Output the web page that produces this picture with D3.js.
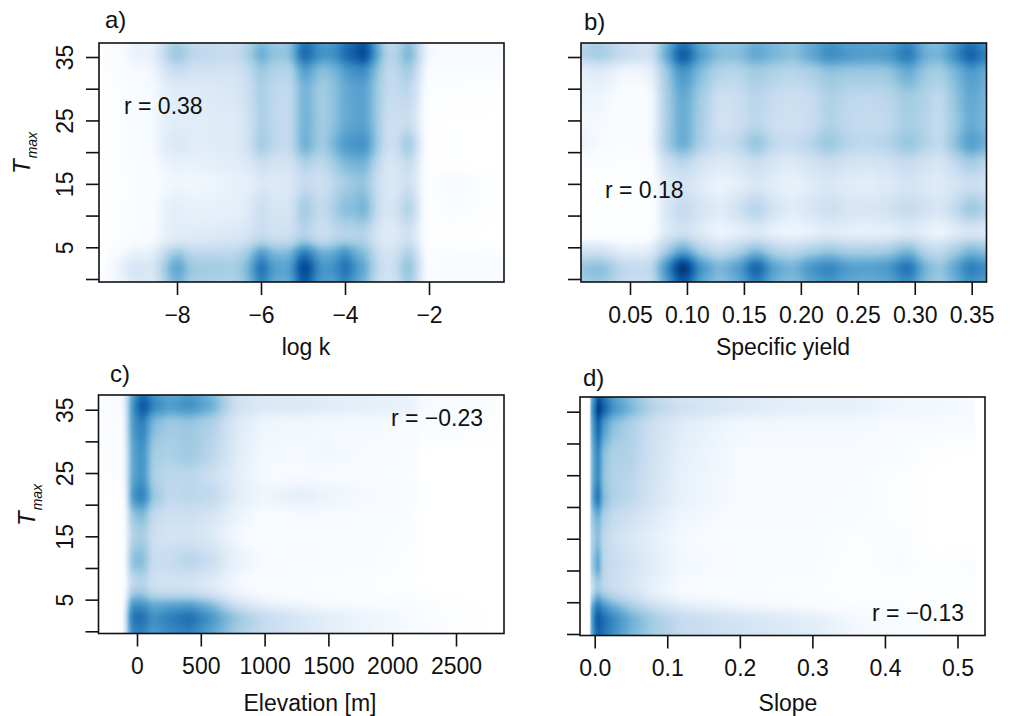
<!DOCTYPE html>
<html><head><meta charset="utf-8">
<script src="https://cdn.jsdelivr.net/npm/d3@7"></script>
<style>
html,body{margin:0;padding:0;background:#fff}
svg{display:block}
text{font-family:"Liberation Sans",Arial,sans-serif;fill:#111}
</style></head><body>
<svg id="c" width="1013" height="716"></svg>
<script>
// colour levels: 0 = white ... 9 = darkest
const paletteLevels=[0,1,2,3,4,5,6,7,8,9];
const paletteColours=["#ffffff","#F7FBFF","#DEEBF7","#C6DBEF","#9ECAE1","#6BAED6","#4292C6","#2171B5","#08519C","#08306B"];

const yTicks=[0,5,10,15,20,25,30,35];
const yTickLabels=[5,15,25,35];

// a) log k
const xKnotsA=[-9.85,-9.4,-9.0,-8.55,-8.35,-8,-7.65,-6.6,-6.25,-6,-5.75,-5.3,-5,-4.55,-4.2,-4,-3.75,-3.55,-3.25,-3.0,-2.75,-2.5,-2.25,-2.05,-1.5,-0.2];
const yKnotsA=[37.2,35.3,33,30,25,21,18,15.5,11,7,5.5,4.5,1.7,-0.5];
const levelsA=[
[.3,.7,1.5,1.4,2.8,3.9,3,2.8,3.6,4.8,4,4,7.2,5.6,5.8,7,7.2,8.4,5.2,3,3.2,4.8,3.2,1,.9,.9],
[.3,.8,1.7,1.6,3.1,4.4,3.3,3,3.9,5.5,4.3,4.3,7.8,6,6.2,7.5,7.7,9,5.6,3.3,3.5,5.3,3.4,1.1,1,1],
[.3,.7,1,1.2,2.2,3,2.6,2.5,3.1,4.3,3.5,3.3,5.8,4.3,4.7,5.8,6,6.4,4.4,3,3.2,4.2,2.8,.8,.8,.8],
[.2,.5,1,1,1.7,2,2,2.2,2.9,3.9,3.2,3,5,3.8,4.4,5.2,5.4,5.6,4.1,3,3,3.5,2.3,.5,.4,.3],
[.2,.5,1,1,1.7,1.9,1.9,2,2.7,3.9,3.2,2.9,5.1,3.8,4.4,5.2,5.3,5.6,4.1,2.7,2.6,3,2,.3,.1,.1],
[.2,.5,1,1,1.9,2.2,1.9,2,2.7,4.2,3.3,2.9,5.2,3.8,4.9,5.9,5.8,6.3,4.2,2.6,2.8,4.5,2.6,.3,.1,0],
[.2,.4,.8,.8,1.4,1.6,1.6,1.9,2.1,2.9,2.4,2.4,3.6,3,4,4.6,4.7,5,3.3,2.2,2.3,3.2,2,.3,.1,0],
[.1,.3,.7,.7,1.1,1.3,1.2,1.6,1.7,2.2,2,2.1,3,2.6,3.3,3.8,4.1,4.3,2.9,2.1,2.1,2.9,1.9,.2,1.1,.2],
[.1,.3,.8,.8,1.6,1.9,1.6,1.7,2,3,2.3,2.3,4.1,2.9,3.9,4.6,4.3,5.3,3,2.2,2.5,4,2.3,.2,.8,.1],
[.1,.4,.8,.9,1.6,1.9,1.9,2.1,2.4,3,2.6,2.6,3.5,2.6,3.1,3.3,3.3,3.5,2.4,1.8,2.1,2.8,1.8,.2,.1,.1],
[.2,.5,1,1.1,1.8,2.3,2.3,2.6,3,4,3.2,3.2,4.6,3.2,3.8,4.2,3.8,3.9,2.6,2,2.2,3.1,2,.2,.2,.1],
[.3,1,1.6,1.6,2.9,4.2,3.2,3.2,4,6,4.6,4.5,7,4.9,5.2,6.5,4.8,4.6,3,2.3,2.6,4,2.6,.4,.8,.5],
[.4,1.5,2.5,2.2,3.8,5.7,4,3.8,5,7.8,5.6,5.4,9,5.8,6.1,7.6,5.9,5.4,3.3,2.5,3,4.8,3,.5,1,1],
[.4,1.3,2.2,2,3.4,5,3.7,3.5,4.6,7,5.2,5,8.2,5.5,5.6,6.8,5.4,4.9,3,2.3,2.8,4.3,2.8,.4,1,.9]];

// b) Specific yield
const xKnotsB=[0.007,0.022,0.047,0.068,0.08,0.0966,0.113,0.129,0.145,0.161,0.177,0.193,0.209,0.225,0.242,0.258,0.275,0.295,0.31,0.322,0.336,0.349,0.363];
const yKnotsB=[37.2,35.3,32.7,28.2,24.5,21.4,18,15.1,10.9,7.2,5,1.7,-0.5];
const levelsB=[
[3.2,3.7,2.8,2.3,4.5,7,5,4.2,4.2,5,4.6,4.2,5,5.9,5.4,5.4,5.3,6.3,4.6,4.4,5.8,7,5.8],
[3.5,4,3,2.5,5,8.3,5.6,4.5,4.5,5.4,4.8,4.4,5.3,6.4,5.9,5.7,5.8,7.1,5,4.8,6.3,7.9,6.6],
[1.6,2,1.2,1.4,3.8,6,4.4,3.4,3.3,3.9,3.5,3.3,3.6,4.2,4,4,4,5.1,4,3.7,4.6,5.8,5],
[1.5,1.3,.7,.8,3.6,5.3,3.8,2.6,2.8,3.4,2.9,2.7,2.9,3.6,3.2,3.1,3.2,3.9,3.5,3,4.2,5.3,4.7],
[1.2,1.1,.7,.8,3.6,5.2,3.7,2.5,2.7,3.3,2.7,2.6,2.8,3.6,3.1,3,3.1,3.8,3.4,2.9,4,5.2,4.6],
[1.6,1.1,.7,.9,3.7,5.3,3.6,2.8,3.2,4.4,3.1,2.9,3.4,4.2,3.4,3.2,3.4,4.3,3.5,3,4.4,5.8,5],
[.6,.6,.4,.6,2.5,3.2,2.4,2,2.2,2.8,2.2,2,2.4,2.8,2.4,2.3,2.5,2.9,2.5,2.2,3,3.8,3.2],
[.3,.3,.3,.4,1.9,2.5,1.9,1.4,1.7,2.2,1.8,1.5,1.9,2.2,1.9,1.7,2,2.4,2.1,1.9,2.3,2.8,2.5],
[.3,.3,.2,.3,2.2,3.1,2.4,1.9,2.6,3.6,2.4,1.9,2.3,2.8,2.4,2.3,2.5,3,2.6,2.2,3.1,4.2,3.5],
[.2,.2,.2,.4,1.9,2.6,1.9,1.3,1.6,1.9,1.5,1.2,1.5,1.8,1.6,1.5,1.6,2,1.6,1.2,1.7,2.2,1.9],
[2.3,2.3,1.5,1.6,3.4,4.9,3.3,2.6,3.2,4.2,3.2,2.9,3.4,3.8,3.4,3.4,3.5,4.4,3.1,2.8,3.6,4.5,4],
[4.2,4.6,3.2,3,5.8,9.6,5.9,4.7,5.6,7.9,5.4,4.8,6,6.6,5.7,5.6,5.8,7.3,4.8,4.1,5.4,6.9,6.2],
[3.8,4.1,2.9,2.7,5.1,8,5.2,4.2,5,6.7,4.9,4.4,5.3,5.9,5.2,5,5.2,6.3,4.4,3.8,4.9,6.1,5.5]];

// c) Elevation [m]
const xKnotsC=[-302,-240,-100,-90,-50,50,120,250,415,600,700,800,1000,1300,1500,1800,2170,2220,2500,2820];
const yKnotsC=[37.4,35.6,32.9,27.9,24.5,21.4,18,15.3,11.1,7.4,5.5,4.5,2.1,-0.35];
const levelsC=[
[0,.7,1,2,5.2,7.4,6,5.2,5.7,4.6,3.3,2.4,2,1.9,1.7,1.6,1.4,1,1,.5],
[0,.8,1,2.2,5.6,8.3,6.6,5.7,6.2,5,3.6,2.6,2.2,2.2,2,1.8,1.6,1.1,1,.6],
[0,.6,.8,2,5.6,6.8,4.6,3.9,4.1,3.5,2.7,2,1.3,1.2,1.1,1.1,1,.8,.8,.4],
[0,.5,.7,1.7,5.2,6.2,3.8,3.6,4,3.2,2.5,1.9,1.1,1.1,1.2,1,.9,.1,0,0],
[0,.5,.7,1.7,5.2,6.1,3.6,3.2,3.3,2.7,2.2,1.7,1,1,1,.9,.8,.1,0,0],
[0,0,.3,1.3,5.8,6.8,4.2,3.1,3.3,3.1,2.4,1.8,1.3,1.8,1.4,1.1,.9,.1,0,0],
[0,0,.2,1.2,4,4.6,3,2.6,2.7,2.3,1.8,1.4,.9,1,1,.9,.7,.1,0,0],
[0,0,.2,1.1,3.4,3.8,2.7,2.4,2.4,2,1.5,1.1,.7,.8,.8,.8,.6,.1,0,0],
[0,0,.2,1.2,4.4,4.6,2.8,2.9,3.4,2.7,2,1.5,1,1,.9,.8,.4,.05,0,0],
[0,0,.2,1.1,3,3.4,2.6,2.5,2.4,1.9,1.5,1.1,.8,.7,.6,.5,.2,0,0,0],
[0,0,.2,1.5,4.3,4.3,3.3,3.2,3.2,2.6,1.9,1.4,1,.8,.7,.6,.5,.3,.1,0],
[0,0,.3,2.2,5.9,5.9,5,5.2,5.4,4.3,3.2,2.4,1.6,1.2,1,.9,.8,.7,.3,0],
[0,0,.5,3,7,7.1,6,6.6,7.2,5.8,4.8,4,3,2.2,1.8,1.4,1,.8,.4,0],
[0,0,.4,2.7,6.3,6.5,5.6,6.2,6.5,5.2,4.4,3.7,2.9,2.2,1.8,1.4,1,.8,.4,0]];

// d) Slope
const xKnotsD=[-.0203,-.0066,-.0062,.002,.005,.012,.025,.05,.08,.12,.2,.3,.36,.42,.47,.524,.526,.5378];
const yKnotsD=[37,35.6,33,27.8,24.5,21.5,18,15.2,10.9,7.2,5.5,4.5,2.3,-0.23];
const levelsD=[
[0,0,4.5,6.8,8,7,5.6,4.4,3.2,2.4,2,1.6,1.6,1.2,1.2,1,0,0],
[0,0,5,7.6,9,7.8,6.2,4.8,3.5,2.7,2.1,1.8,1.7,1.3,1.2,1,0,0],
[0,0,4.5,6.8,7.5,5.8,4.4,3.6,2.7,1.9,1.2,1.1,1.1,1,1,1,0,0],
[0,0,4,6,6.4,4.4,3.6,3.5,2.6,1.7,1,1,1,.8,.2,0,0,0],
[0,0,4,6,6.3,4.3,3.5,3.3,2.5,1.6,1,1,.9,.4,0,0,0,0],
[0,0,4.2,6.6,7,4.6,3.6,3.2,2.4,1.6,1,.9,.9,.4,0,0,0,0],
[0,0,3.5,4.6,4.8,3.6,3,2.6,2,1.3,.9,.9,.8,.4,0,0,0,0],
[0,0,3.2,4.2,4.4,3.2,2.7,2.2,1.7,1.1,.8,.8,.5,.7,0,0,0,0],
[0,0,3.3,5,5.4,3.3,2.9,2.5,1.9,1.2,.9,.8,.3,.8,.2,.7,0,0],
[0,0,2.2,3.6,3.7,3.2,2.8,2.3,1.6,1,.7,.6,.3,.3,.2,.2,0,0],
[0,0,3,5,5.3,4.4,3.6,2.9,1.9,1.2,.9,.7,.4,.3,.2,.2,0,0],
[0,0,4.5,6.6,6.8,6,5,3.8,2.8,1.9,1.3,.9,.6,.5,.3,.2,0,0],
[0,0,4.8,7.5,7.8,7.2,6.4,5,3.9,3,2.4,1.8,1.2,.9,.5,.3,0,0],
[0,0,4.5,7,7.4,6.9,6.1,4.8,3.8,3,2.5,1.9,1.2,.9,.5,.3,0,0]];

const xTicksA=[-8,-6,-4,-2], xTicksB=[.05,.10,.15,.20,.25,.30,.35], xTicksC=[0,500,1000,1500,2000,2500], xTicksD=[0,.1,.2,.3,.4,.5];
const xFormatA=d=>"\u2212"+Math.abs(d), xFormatB=d3.format(".2f"), xFormatC=d3.format("d"), xFormatD=d3.format(".1f");

const panels=[
 {tag:"a)",tagX:105,tagY:28,xk:xKnotsA,yk:yKnotsA,lv:levelsA,L:99,R:504,T:43,B:282,sx:5,sy:4.5,ease:true,
  xRef:[-8,-2],xPx:[177,429],y35:57,y0:279,ticks:xTicksA,fmt:xFormatA,title:"log k",titleX:306,titleY:355,tickY:323,
  r:"r = 0.38",rx:124,ry:114,ylab:true,tx:30,ty:174},
 {tag:"b)",tagX:584,tagY:30,xk:xKnotsB,yk:yKnotsB,lv:levelsB,L:581,R:986.5,T:43,B:282,sx:5,sy:4.5,ease:true,
  xRef:[.05,.35],xPx:[630,971.7],y35:57,y0:279,ticks:xTicksB,fmt:xFormatB,title:"Specific yield",titleX:783,titleY:355,tickY:323,
  r:"r = 0.18",rx:605,ry:198,ylab:false},
 {tag:"c)",tagX:110,tagY:382,xk:xKnotsC,yk:yKnotsC,lv:levelsC,L:98.5,R:504,T:395,B:633.5,sx:3,sy:4,ease:false,
  xRef:[0,2500],xPx:[137,456],y35:409.7,y0:631.3,ticks:xTicksC,fmt:xFormatC,title:"Elevation [m]",titleX:310,titleY:711,tickY:674,
  r:"r = \u22120.23",rx:391,ry:426,ylab:true,tx:35,ty:526},
 {tag:"d)",tagX:583,tagY:386,xk:xKnotsD,yk:yKnotsD,lv:levelsD,L:580,R:985,T:397,B:635.5,sx:1,sy:4,ease:false,
  xRef:[0,.5],xPx:[594.7,957.5],y35:411.7,y0:634,ticks:xTicksD,fmt:xFormatD,title:"Slope",titleX:788,titleY:711,tickY:676,
  r:"r = \u22120.13",rx:872,ry:621,ylab:false}
];

const colour=d3.scaleLinear().domain(paletteLevels).range(paletteColours).clamp(true);
const lut=d3.range(1024).map(i=>d3.rgb(colour(i/1023*9)));
const smooth=t=>t*t*(3-2*t);
const svg=d3.select("#c");
const fontSize=23;

function locate(knots,v,ease){
  let i=d3.bisectRight(knots,v)-1;
  i=Math.max(0,Math.min(knots.length-2,i));
  const t=Math.max(0,Math.min(1,(v-knots[i])/(knots[i+1]-knots[i])));
  return [i,ease?smooth(t):t];
}
function kernel(s){
  const r=Math.ceil(s*2.5),k=d3.range(-r,r+1).map(d=>Math.exp(-d*d/(2*s*s))),t=d3.sum(k);
  return k.map(d=>d/t);
}
function blur(src,w,h,sx,sy){
  const kx=kernel(sx),ky=kernel(sy),rx=(kx.length-1)/2,ry=(ky.length-1)/2;
  const a=new Float32Array(w*h),b=new Float32Array(w*h);
  for(let j=0;j<h;j++)for(let i=0;i<w;i++){
    let v=0;for(let n=-rx;n<=rx;n++)v+=kx[n+rx]*src[j*w+Math.max(0,Math.min(w-1,i+n))];
    a[j*w+i]=v;
  }
  for(let j=0;j<h;j++)for(let i=0;i<w;i++){
    let v=0;for(let n=-ry;n<=ry;n++)v+=ky[n+ry]*a[Math.max(0,Math.min(h-1,j+n))*w+i];
    b[j*w+i]=v;
  }
  return b;
}

panels.forEach(p=>{
  const slope=(p.xPx[1]-p.xPx[0])/(p.xRef[1]-p.xRef[0]);
  const x=d3.scaleLinear().domain([p.xRef[0]-(p.xPx[0]-p.L)/slope,p.xRef[1]+(p.R-p.xPx[1])/slope]).range([p.L,p.R]);
  const ys=(p.y0-p.y35)/35;
  const y=d3.scaleLinear().domain([(p.y0-p.B)/ys,(p.y0-p.T)/ys]).range([p.B,p.T]);

  const w=Math.ceil(p.R-p.L), h=Math.ceil(p.B-p.T);
  const cv=document.createElement("canvas"); cv.width=w; cv.height=h;
  const ctx=cv.getContext("2d"), img=ctx.createImageData(w,h);
  const ykAsc=p.yk.slice().reverse(), lvAsc=p.lv.slice().reverse();
  const field=new Float32Array(w*h);
  for(let j=0;j<h;j++){
    const [yi,yt]=locate(ykAsc,y.invert(p.T+j+.5),true);
    for(let i=0;i<w;i++){
      const [xi,xt]=locate(p.xk,x.invert(p.L+i+.5),p.ease);
      const a=lvAsc[yi][xi]*(1-xt)+lvAsc[yi][xi+1]*xt;
      const b=lvAsc[yi+1][xi]*(1-xt)+lvAsc[yi+1][xi+1]*xt;
      field[j*w+i]=a*(1-yt)+b*yt;
    }
  }
  const soft=blur(field,w,h,p.sx,p.sy);
  for(let k=0;k<w*h;k++){
    const c=lut[Math.max(0,Math.min(1023,Math.round(soft[k]/9*1023)))],o=k*4;
    img.data[o]=c.r;img.data[o+1]=c.g;img.data[o+2]=c.b;img.data[o+3]=255;
  }
  ctx.putImageData(img,0,0);
  svg.append("image").attr("x",p.L).attr("y",p.T).attr("width",p.R-p.L).attr("height",p.B-p.T)
     .attr("preserveAspectRatio","none").attr("href",cv.toDataURL());

  svg.append("rect").attr("x",p.L).attr("y",p.T).attr("width",p.R-p.L).attr("height",p.B-p.T)
     .attr("fill","none").attr("stroke","#111").attr("stroke-width",1.6);

  const gx=svg.append("g").attr("transform",`translate(0,${p.B})`)
    .call(d3.axisBottom(x).tickValues(p.ticks).tickFormat(p.fmt).tickSize(13).tickSizeOuter(0));
  gx.select(".domain").remove();
  gx.selectAll("line").attr("stroke","#111").attr("stroke-width",1.6);
  gx.selectAll("text").attr("y",p.tickY-p.B).attr("dy",0).attr("font-size",fontSize).attr("fill","#111");

  const gy=svg.append("g").attr("transform",`translate(${p.L},0)`)
    .call(d3.axisLeft(y).tickValues(yTicks).tickSize(13).tickSizeOuter(0)
      .tickFormat(d=>p.ylab&&yTickLabels.includes(d)?d:""));
  gy.select(".domain").remove();
  gy.selectAll("line").attr("stroke","#111").attr("stroke-width",1.6);
  gy.selectAll("text").attr("x",null).attr("dy",0).attr("font-size",fontSize).attr("fill","#111")
    .attr("text-anchor","middle").attr("transform",`translate(-26,0) rotate(-90)`).attr("y",0);

  svg.append("text").attr("x",p.tagX).attr("y",p.tagY).attr("font-size",24).text(p.tag);
  svg.append("text").attr("x",p.titleX).attr("y",p.titleY).attr("text-anchor","middle").attr("font-size",fontSize).text(p.title);
  svg.append("text").attr("x",p.rx).attr("y",p.ry).attr("font-size",fontSize).text(p.r);

  if(p.ylab){
    const t=svg.append("text").attr("transform",`translate(${p.tx},${p.ty}) rotate(-90)`);
    t.append("tspan").attr("font-size",24).attr("font-style","italic").text("T");
    t.append("tspan").attr("font-size",14).attr("font-style","italic").attr("dy",7).attr("dx",1).text("max");
  }
});
</script>
</body></html>
